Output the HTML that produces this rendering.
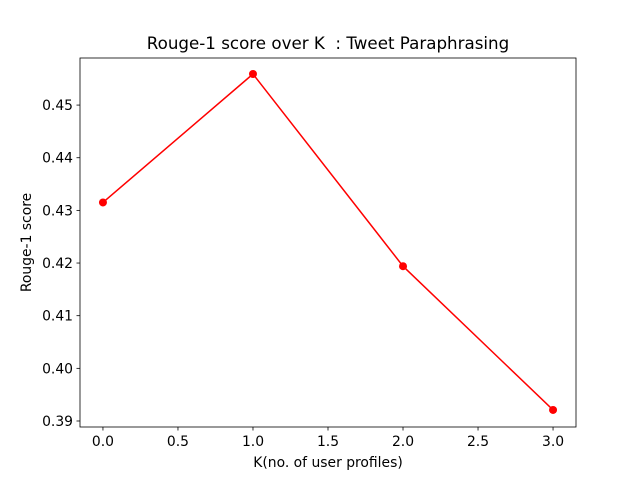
<!DOCTYPE html>
<html><head><meta charset="utf-8"><style>
body{margin:0;background:#fff;}
svg text{font-family:"DejaVu Sans","Liberation Sans",sans-serif;fill:#000;white-space:pre;}
</style></head><body>
<svg id="chart" width="640" height="480" xmlns="http://www.w3.org/2000/svg">
<rect width="640" height="480" fill="#fff"/>
<g id="ticks"></g>
<path id="series" fill="none" stroke="#ff0000" stroke-width="1.5"/>
<g id="points"></g>
<rect x="80" y="58" width="496" height="369" fill="none" stroke="#000" stroke-width="0.8"/>
<text x="328" y="49" font-size="16.7" text-anchor="middle" xml:space="preserve">Rouge-1 score over K  : Tweet Paraphrasing</text>
<text x="328" y="467" font-size="13.9" text-anchor="middle">K(no. of user profiles)</text>
<text transform="translate(31,242.5) rotate(-90)" font-size="13.9" text-anchor="middle">Rouge-1 score</text>
</svg>
<script>
const kValues=[0,1,2,3];
const scores=[0.4315,0.4559,0.4194,0.3921];
const xTicks=[0,0.5,1,1.5,2,2.5,3];
const xTickLabels=["0.0","0.5","1.0","1.5","2.0","2.5","3.0"];
const yTicks=[0.39,0.40,0.41,0.42,0.43,0.44,0.45];
const yTickLabels=["0.39","0.40","0.41","0.42","0.43","0.44","0.45"];
const L=80,R=576,T=58,B=427,xmin=-0.153,xmax=3.153,ymin=0.38886,ymax=0.45894;
const sx=v=>L+(v-xmin)/(xmax-xmin)*(R-L);
const sy=v=>B-(v-ymin)/(ymax-ymin)*(B-T);
const NS="http://www.w3.org/2000/svg";
const tg=document.getElementById('ticks');
function mk(tag,attrs,parent){const e=document.createElementNS(NS,tag);for(const k in attrs)e.setAttribute(k,attrs[k]);parent.appendChild(e);return e;}
xTicks.forEach((t,i)=>{const x=sx(t);
const l=mk('line',{x1:x,x2:x,y1:B,y2:B+3.5,stroke:'#000','stroke-width':0.8},tg);


const tx=mk('text',{x:x,y:B+19,'font-size':13.9,'text-anchor':'middle'},tg);tx.textContent=xTickLabels[i];

});
yTicks.forEach((t,i)=>{const y=sy(t);
const l=mk('line',{x1:L-3.5,x2:L,y1:y,y2:y,stroke:'#000','stroke-width':0.8},tg);


const tx=mk('text',{x:L-7,y:y+5,'font-size':13.9,'text-anchor':'end'},tg);tx.textContent=yTickLabels[i];

});
document.getElementById('series').setAttribute('d',kValues.map((k,i)=>(i?'L':'M')+sx(k)+','+sy(scores[i])).join(''));
const pg=document.getElementById('points');
kValues.forEach((k,i)=>{const c=mk('circle',{cx:sx(k),cy:sy(scores[i]),r:4,fill:'#ff0000'},pg);

});
</script>
</body></html>
